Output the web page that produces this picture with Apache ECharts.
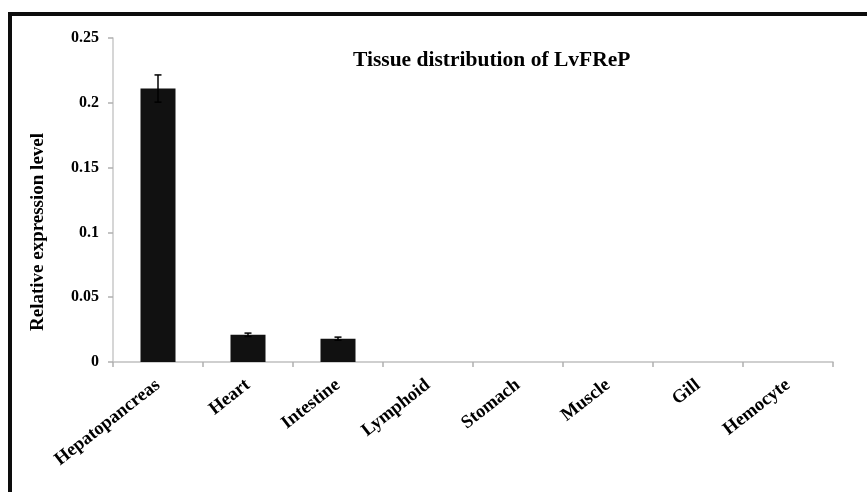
<!DOCTYPE html>
<html>
<head>
<meta charset="utf-8">
<script src="https://cdn.jsdelivr.net/npm/echarts@6/dist/echarts.min.js"></script>
<style>
html,body{margin:0;padding:0;background:#fff;}
#chart{width:867px;height:492px;}
</style>
</head>
<body>
<div id="chart"></div>
<script>
const categories = ['Hepatopancreas', 'Heart', 'Intestine', 'Lymphoid', 'Stomach', 'Muscle', 'Gill', 'Hemocyte'];
const values = [0.211, 0.021, 0.018, 0, 0, 0, 0, 0];
const errors = [0.0105, 0.0013, 0.0012, 0, 0, 0, 0, 0];
const yTicks = [0, 0.05, 0.1, 0.15, 0.2, 0.25];
const titleText = 'Tissue distribution of LvFReP';
const yName = 'Relative expression level';

const FONT = '"Liberation Serif", "Times New Roman", serif';
const chart = echarts.init(document.getElementById('chart'));

const errData = categories.map((c, i) => [i, values[i], errors[i]]);

chart.setOption({
  backgroundColor: '#ffffff',
  animation: false,
  title: {
    text: titleText,
    left: 348, top: 44,
    textStyle: { fontFamily: FONT, fontWeight: 'bold', fontSize: 21.5, color: '#000' }
  },
  graphic: [
    { type: 'rect', shape: { x: 8, y: 12, width: 870, height: 4 }, style: { fill: '#0d0d0d' } },
    { type: 'rect', shape: { x: 8, y: 12, width: 4, height: 490 }, style: { fill: '#0d0d0d' } },
    {
      type: 'text', x: 38, y: 232, rotation: Math.PI / 2,
      style: {
        text: yName, fontFamily: FONT, fontWeight: 'bold', fontSize: 19, fill: '#000',
        align: 'center', verticalAlign: 'middle'
      }
    }
  ],
  grid: { left: 113, right: 34, top: 38, bottom: 130, containLabel: false },
  xAxis: {
    type: 'category',
    data: categories,
    axisLine: { lineStyle: { color: '#c0c0c0', width: 1.5 } },
    axisTick: { show: true, length: 5, lineStyle: { color: '#b0b0b0', width: 1.5 } },
    axisLabel: {
      rotate: 38, margin: 21, interval: 0,
      fontFamily: FONT, fontWeight: 'bold', fontSize: 18.5, color: '#000'
    }
  },
  yAxis: {
    type: 'value',
    min: 0, max: 0.25, interval: 0.05,
    splitLine: { show: false },
    axisLine: { show: true, lineStyle: { color: '#c8c8c8', width: 1.5 } },
    axisTick: { show: true, length: 5, lineStyle: { color: '#b0b0b0', width: 1.5 } },
    axisLabel: {
      margin: 14,
      fontFamily: FONT, fontWeight: 'bold', fontSize: 16, color: '#000',
      formatter: v => {
        const t = yTicks.find(x => Math.abs(x - v) < 1e-9);
        return t === undefined ? '' : String(t);
      }
    }
  },
  series: [
    {
      type: 'bar',
      data: values,
      barWidth: 35,
      itemStyle: { color: '#111111' }
    },
    {
      type: 'custom',
      data: errData,
      z: 10,
      renderItem: function (params, api) {
        const i = api.value(0), v = api.value(1), e = api.value(2);
        if (!e) return null;
        const top = api.coord([i, v + e]);
        const bot = api.coord([i, v - e]);
        const cap = 3.5;
        const st = { stroke: '#000', lineWidth: 1.5 };
        return {
          type: 'group',
          children: [
            { type: 'line', shape: { x1: top[0], y1: top[1], x2: bot[0], y2: bot[1] }, style: st },
            { type: 'line', shape: { x1: top[0] - cap, y1: top[1], x2: top[0] + cap, y2: top[1] }, style: st },
            { type: 'line', shape: { x1: bot[0] - cap, y1: bot[1], x2: bot[0] + cap, y2: bot[1] }, style: st }
          ]
        };
      }
    }
  ]
});
</script>
</body>
</html>
